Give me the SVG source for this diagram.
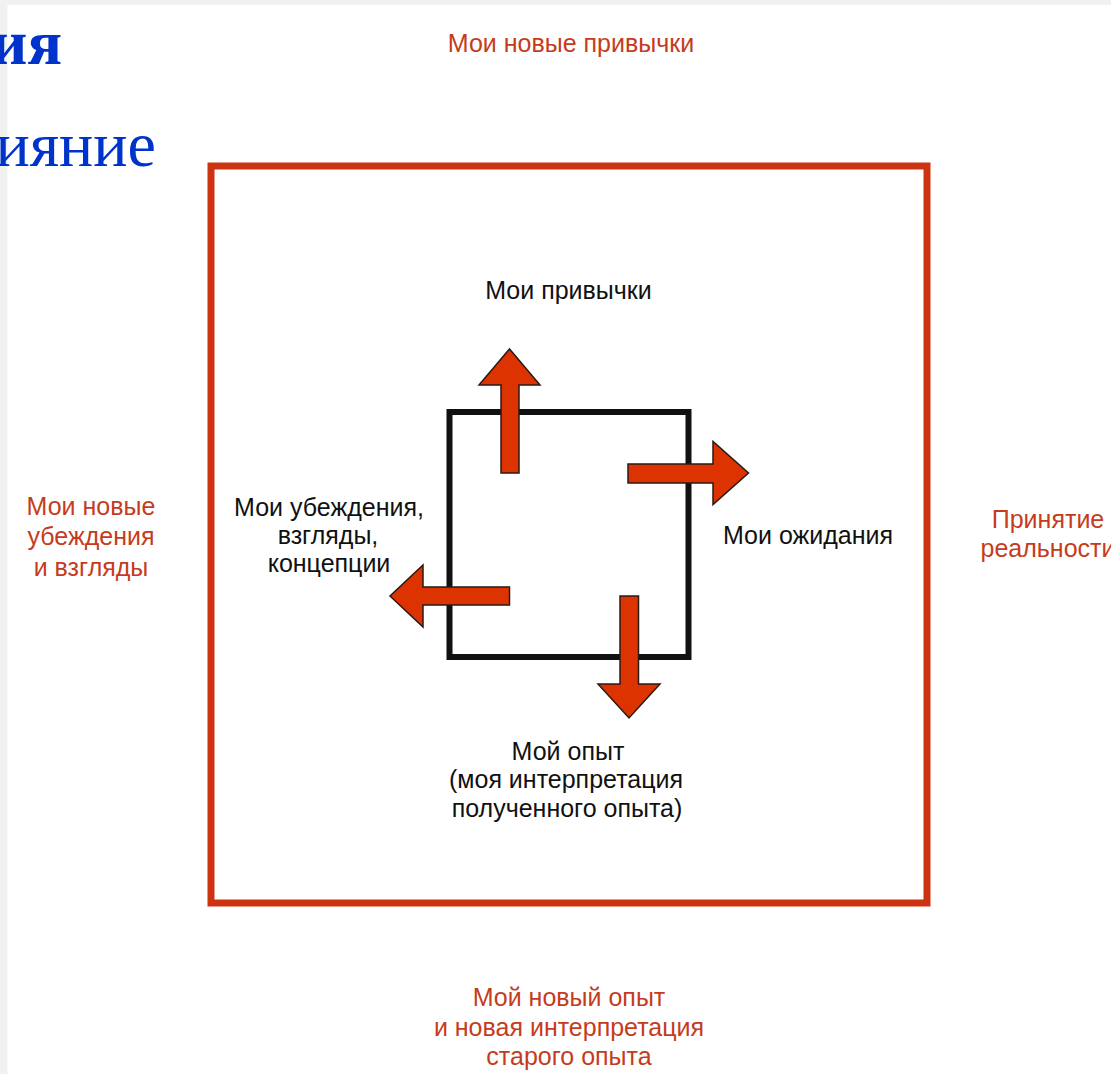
<svg xmlns="http://www.w3.org/2000/svg" width="1111" height="1074" viewBox="0 0 1111 1074">
<style>
.bg{fill:#ffffff}
.strip{fill:#f1f1f1}
.blue{font-family:"Liberation Serif","Times New Roman",serif;fill:#0033cc;font-size:64px}
.lbl{font-family:"Liberation Sans",Arial,sans-serif;font-size:25px;fill:#111111;text-anchor:middle}
.red{font-family:"Liberation Sans",Arial,sans-serif;font-size:25px;fill:#c53c1c;text-anchor:middle}
.frame{fill:none;stroke:#cc3311;stroke-width:7}
.box{fill:none;stroke:#111111;stroke-width:6}
.arrow{fill:#dd3300;stroke:#2a1a14;stroke-width:1.5;stroke-linejoin:miter}
</style>
<rect class="bg" x="0" y="0" width="1111" height="1074"/>
<rect class="strip" x="0" y="0" width="1111" height="5"/>
<rect class="strip" x="0" y="0" width="7.5" height="1074"/>
<g id="title">
<text class="blue" x="62" y="64" text-anchor="end" font-weight="bold">ия</text>
<text class="blue" x="156" y="166" text-anchor="end">ияние</text>
</g>
<g id="outer-frame"><rect class="frame" x="211" y="166" width="716" height="737"/></g>
<g id="inner-box"><rect class="box" x="449.5" y="412" width="239" height="245"/></g>
<g id="connectors">
<polygon class="arrow" points="501,473 519,473 519,385 540,385 509.5,349 479,385 501,385"/>
<polygon class="arrow" points="628,464 713,464 713,441.5 748.5,473 713,504.5 713,483 628,483"/>
<polygon class="arrow" points="509.5,587 423,587 423,565 390,596 423,627 423,605 509.5,605"/>
<polygon class="arrow" points="620,596 638.5,596 638.5,684 660,684 629,718 598,684 620,684"/>
</g>
<g id="habits"><text class="lbl" x="568.5" y="299">Мои привычки</text></g>
<g id="expectations"><text class="lbl" x="808" y="544">Мои ожидания</text></g>
<g id="beliefs"><text class="lbl" x="329" y="516">Мои убеждения,</text><text class="lbl" x="328" y="544">взгляды,</text><text class="lbl" x="329" y="572">концепции</text></g>
<g id="experience"><text class="lbl" x="568" y="760">Мой опыт</text><text class="lbl" x="566" y="788">(моя интерпретация</text><text class="lbl" x="567" y="817">полученного опыта)</text></g>
<g id="new-habits"><text class="red" x="571" y="52">Мои новые привычки</text></g>
<g id="new-beliefs"><text class="red" x="91" y="515">Мои новые</text><text class="red" x="91" y="545">убеждения</text><text class="red" x="91" y="576">и взгляды</text></g>
<g id="acceptance"><text class="red" x="1048" y="528">Принятие</text><text class="red" x="1048" y="557">реальности</text></g>
<g id="new-experience"><text class="red" x="569" y="1006">Мой новый опыт</text><text class="red" x="569" y="1036">и новая интерпретация</text><text class="red" x="569" y="1065">старого опыта</text></g>
</svg>
